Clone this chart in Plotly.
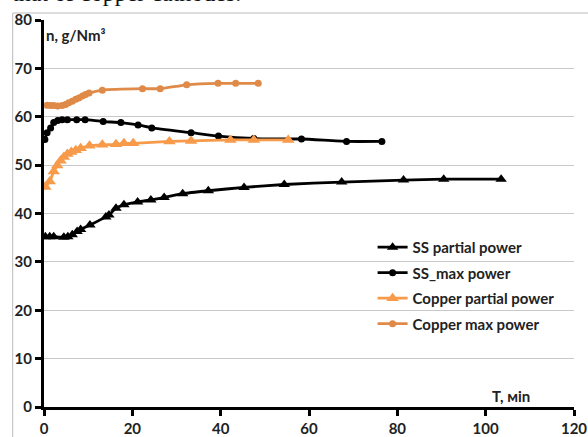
import plotly.graph_objects as go

# Time (min) and concentration (g/Nm³) for each run
ss_partial_t = [0.3, 1.3, 2.2, 4.5, 5.4, 6.4, 7.5, 8.3, 10.4, 14.0, 14.7, 16.3, 18.1,
                21.2, 24.2, 27.2, 31.4, 37.2, 45.3, 54.4, 67.4, 81.4, 90.5, 103.5]
ss_partial_n = [35.2, 35.2, 35.2, 35.1, 35.2, 35.6, 36.3, 36.7, 37.6, 39.3, 39.7, 41.1, 41.8,
                42.4, 42.8, 43.3, 44.1, 44.7, 45.4, 46.0, 46.5, 46.9, 47.1, 47.1]

ss_max_t = [0.2, 0.7, 1.5, 2.2, 3.1, 4.1, 5.3, 7.4, 9.3, 13.4, 17.4, 21.3, 24.4,
            33.3, 39.5, 47.5, 58.3, 68.5, 76.5]
ss_max_n = [55.3, 56.7, 57.7, 58.8, 59.25, 59.4, 59.4, 59.4, 59.4, 59.0, 58.8, 58.3, 57.7,
            56.7, 56.0, 55.5, 55.4, 54.9, 54.9]

cu_partial_t = [0.3, 1.3, 2.2, 3.0, 3.75, 4.5, 5.3, 6.2, 7.2, 8.3, 10.3, 13.2, 16.3,
                18.1, 20.2, 28.4, 33.3, 42.2, 47.5, 55.3]
cu_partial_n = [45.5, 46.6, 48.7, 49.9, 50.9, 51.7, 52.3, 52.7, 53.1, 53.5, 54.0, 54.2, 54.3,
                54.5, 54.5, 54.9, 55.0, 55.2, 55.2, 55.2]

cu_max_t = [0.7, 1.5, 2.2, 3.1, 4.1, 4.9, 5.6, 6.4, 7.2, 7.9, 8.7, 9.4, 10.2, 13.2,
            22.3, 26.3, 32.3, 39.4, 43.4, 48.5]
cu_max_n = [62.4, 62.35, 62.3, 62.2, 62.35, 62.55, 62.9, 63.2, 63.6, 63.9, 64.3, 64.6, 64.9, 65.5,
            65.8, 65.8, 66.6, 66.9, 66.9, 66.9]

x_ticks = [0, 20, 40, 60, 80, 100, 120]
y_ticks = [0, 10, 20, 30, 40, 50, 60, 70, 80]

BLACK = "#000000"
CU_PARTIAL = "#F79A4A"
CU_MAX = "#DF8A48"
FONT = dict(family="Lato", size=15, color="#222222", weight="bold")

series = [
    ("SS partial power", ss_partial_t, ss_partial_n, BLACK, "triangle-up", 10),
    ("SS_max power", ss_max_t, ss_max_n, BLACK, "circle", 7),
    ("Copper partial power", cu_partial_t, cu_partial_n, CU_PARTIAL, "triangle-up", 11),
    ("Copper max power", cu_max_t, cu_max_n, CU_MAX, "circle", 7),
]

fig = go.Figure()
for i, (name, t, n, color, symbol, size) in enumerate(series):
    fig.add_trace(go.Scatter(
        x=t, y=n, name=name, mode="lines+markers",
        line=dict(color=color, width=2.8, shape="spline", smoothing=0.5),
        marker=dict(symbol=symbol, size=size, color=color),
        legendgroup=f"g{i}",
    ))

axis_common = dict(
    showline=True, linecolor="black", linewidth=3,
    ticks="outside", tickcolor="black", tickwidth=3, ticklen=6,
    tickfont=FONT, zeroline=False, automargin=False,
)

fig.update_layout(
    width=588, height=437,
    margin=dict(l=44, r=14, t=20, b=30),
    paper_bgcolor="white", plot_bgcolor="white",
    showlegend=True,
    legend=dict(
        x=0.62, y=0.455, xanchor="left", yanchor="top",
        bgcolor="rgba(0,0,0,0)", font=FONT,
        tracegroupgap=3, itemwidth=30,
    ),
    xaxis=dict(range=[0, 120], tickvals=x_ticks, showgrid=False, **axis_common),
    yaxis=dict(range=[0, 80], tickvals=y_ticks, showgrid=True,
               gridcolor="#C8C8C8", gridwidth=1, **axis_common),
)

# Chart frame
fig.add_shape(type="rect", xref="paper", yref="paper",
              x0=(12.7 - 44) / 530, x1=1.05, y0=-0.2, y1=1 + (20 - 13) / 387,
              line=dict(color="#BBBBBB", width=1), layer="below")

# Axis captions
fig.add_annotation(text="n, g/Nm³", xref="paper", yref="paper",
                   x=0.0, y=1 - (35 - 20) / 387, xanchor="left", yanchor="middle",
                   showarrow=False, font=FONT)
fig.add_annotation(text="T, мin", xref="paper", yref="paper",
                   x=(490 - 44) / 530, y=(407.7 - 397) / 387, xanchor="left", yanchor="middle",
                   showarrow=False, font=FONT)

# Running text above the figure
fig.add_annotation(text="that of copper cathodes.", xref="paper", yref="paper",
                   x=(10 - 44) / 530, y=1 + (20 + 7) / 387, xanchor="left", yanchor="middle",
                   showarrow=False,
                   font=dict(family="Liberation Serif", size=24, color="#111111"))

fig.write_html("out.html")
